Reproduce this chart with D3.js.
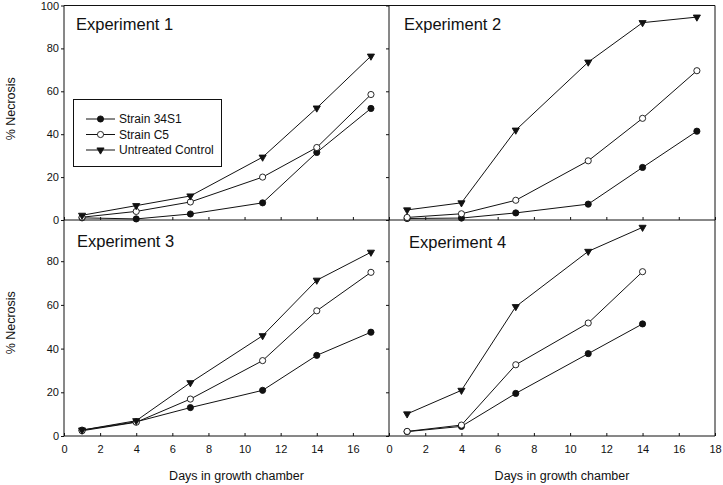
<!DOCTYPE html>
<html>
<head>
<meta charset="utf-8">
<script src="https://cdn.jsdelivr.net/npm/d3@7"></script>
<style>
  html, body { margin: 0; padding: 0; background: #fff; }
  svg { display: block; font-family: "Liberation Sans", Arial, sans-serif; }
</style>
</head>
<body>
<svg id="chart" width="723" height="485"></svg>
<script>
// ---------- data ----------
const experiments = ["Experiment 1", "Experiment 2", "Experiment 3", "Experiment 4"];
const seriesNames = ["Strain 34S1", "Strain C5", "Untreated Control"];
const days = [1, 4, 7, 11, 14, 17];
const days4 = [1, 4, 7, 11, 14];

const exp1_34S1 = [1.0, 0.5, 2.8, 8.0, 31.5, 52.0];
const exp1_C5 = [1.3, 4.0, 8.4, 20.0, 33.8, 58.5];
const exp1_Control = [2.2, 6.7, 11.2, 29.3, 52.2, 76.4];

const exp2_34S1 = [0.7, 0.9, 3.3, 7.4, 24.5, 41.4];
const exp2_C5 = [1.2, 2.9, 9.2, 27.6, 47.4, 69.6];
const exp2_Control = [4.7, 8.0, 41.9, 73.6, 92.0, 94.6];

const exp3_34S1 = [2.7, 6.5, 13.0, 20.9, 36.9, 47.5];
const exp3_C5 = [2.4, 6.3, 16.9, 34.5, 57.3, 74.9];
const exp3_Control = [2.7, 7.0, 24.4, 45.9, 71.3, 84.1];

const exp4_34S1 = [2.0, 4.4, 19.5, 37.7, 51.3];
const exp4_C5 = [2.1, 5.0, 32.6, 51.7, 75.2];
const exp4_Control = [10.1, 20.9, 59.2, 84.5, 95.5];

const xTicksLeft = [0, 2, 4, 6, 8, 10, 12, 14, 16];
const xTicksRight = [0, 2, 4, 6, 8, 10, 12, 14, 16, 18];
const yTicksTop = [0, 20, 40, 60, 80, 100];
const yTicksBottom = [0, 20, 40, 60, 80];

const xLabel = "Days in growth chamber";
const yLabel = "% Necrosis";

// ---------- layout ----------
const svg = d3.select("#chart");
const ink = "#111";

const xLeft = d3.scaleLinear().domain([0, 18]).range([64, 389]);
const xRight = d3.scaleLinear().domain([0, 18]).range([389, 715]);
const yTop = d3.scaleLinear().domain([0, 100]).range([220, 5.5]);
const yBot = d3.scaleLinear().domain([0, 100]).range([436, 217.5]);

const panels = [
  { name: experiments[0], x: xLeft, y: yTop, days: days, data: [exp1_34S1, exp1_C5, exp1_Control], left: true, bottom: false, title: [76, 30] },
  { name: experiments[1], x: xRight, y: yTop, days: days, data: [exp2_34S1, exp2_C5, exp2_Control], left: false, bottom: false, title: [404, 30] },
  { name: experiments[2], x: xLeft, y: yBot, days: days, data: [exp3_34S1, exp3_C5, exp3_Control], left: true, bottom: true, title: [77, 247] },
  { name: experiments[3], x: xRight, y: yBot, days: days4, data: [exp4_34S1, exp4_C5, exp4_Control], left: false, bottom: true, title: [409, 248] }
];

// frame lines
const fx0 = xLeft(0), fxm = xLeft(18), fx1 = xRight(18);
const fy0 = yTop(100), fym = yTop(0), fy1 = yBot(0);
const frame = svg.append("g").attr("stroke", ink).attr("stroke-width", 1).attr("fill", "none");
[[fx0, fy0, fx1, fy0], [fx0, fym, fx1, fym], [fx0, fy1, fx1, fy1],
 [fx0, fy0, fx0, fy1], [fxm, fy0, fxm, fy1], [fx1, fy0, fx1, fy1]].forEach(l => {
  frame.append("line").attr("x1", l[0]).attr("y1", l[1]).attr("x2", l[2]).attr("y2", l[3]);
});

function styleAxis(g) {
  g.select(".domain").remove();
  g.selectAll("line").attr("stroke", ink);
  g.selectAll("text").attr("fill", ink).style("font-size", "11px")
    .style("font-family", "'Liberation Sans', Arial, sans-serif");
}

const markerTypes = [
  { sym: d3.symbolCircle, size: 30, fill: ink, rot: 0 },
  { sym: d3.symbolCircle, size: 30, fill: "#fff", rot: 0 },
  { sym: d3.symbolTriangle, size: 22, fill: ink, rot: 180 }
];

panels.forEach(p => {
  const g = svg.append("g");
  // y axis ticks
  const yAxis = d3.axisLeft(p.y)
    .tickValues(p.bottom ? yTicksBottom : yTicksTop)
    .tickSize(3).tickPadding(2);
  if (!p.left) yAxis.tickFormat("");
  g.append("g").attr("transform", `translate(${p.x(0)},0)`).call(yAxis).call(styleAxis);

  // x ticks (inward)
  const y0 = p.y(0);
  g.append("g").attr("transform", `translate(0,${y0})`)
    .call(d3.axisTop(p.x).tickValues(xTicksRight).tickSize(3).tickFormat(""))
    .call(styleAxis);

  if (p.bottom) {
    g.append("g").attr("transform", `translate(0,${y0})`)
      .call(d3.axisBottom(p.x).tickValues(p.left ? xTicksLeft : xTicksRight).tickSize(0).tickPadding(9))
      .call(styleAxis);
    const [r0, r1] = p.x.range();
    g.append("text").attr("x", (r0 + r1) / 2 + 10).attr("y", 480)
      .attr("text-anchor", "middle").attr("fill", ink).style("font-size", "12.5px")
      .text(xLabel);
  }
  if (p.left) {
    const [b, t] = p.y.range();
    g.append("text")
      .attr("transform", `translate(15,${(b + t) / 2 - 4}) rotate(-90)`)
      .attr("text-anchor", "middle").attr("fill", ink).style("font-size", "12.5px")
      .text(yLabel);
  }

  // title
  g.append("text").attr("x", p.title[0]).attr("y", p.title[1])
    .attr("fill", ink).style("font-size", "16.5px").text(p.name);

  // series
  const line = d3.line().x((d, i) => p.x(p.days[i])).y(d => p.y(d));
  p.data.forEach((vals, si) => {
    g.append("path").datum(vals).attr("d", line)
      .attr("fill", "none").attr("stroke", ink).attr("stroke-width", 1);
  });
  p.data.forEach((vals, si) => {
    const m = markerTypes[si];
    g.selectAll(null).data(vals).enter().append("path")
      .attr("d", d3.symbol().type(m.sym).size(m.size))
      .attr("transform", (d, i) => `translate(${p.x(p.days[i])},${p.y(d)}) rotate(${m.rot})`)
      .attr("fill", m.fill).attr("stroke", ink).attr("stroke-width", 0.9);
  });
});

// legend
const lg = svg.append("g");
lg.append("rect").attr("x", 73.5).attr("y", 99.5).attr("width", 148).attr("height", 67)
  .attr("fill", "#fff").attr("stroke", ink).attr("stroke-width", 1);
const legendY = d3.scalePoint().domain(seriesNames).range([119, 150]);
seriesNames.forEach((name, si) => {
  const yy = legendY(name);
  const m = markerTypes[si];
  lg.append("line").attr("x1", 86).attr("x2", 115).attr("y1", yy).attr("y2", yy)
    .attr("stroke", ink).attr("stroke-width", 1);
  lg.append("path").attr("d", d3.symbol().type(m.sym).size(m.size))
    .attr("transform", `translate(100.5,${yy}) rotate(${m.rot})`)
    .attr("fill", m.fill).attr("stroke", ink).attr("stroke-width", 0.9);
  lg.append("text").attr("x", 119).attr("y", yy).attr("dy", "0.35em")
    .attr("fill", ink).style("font-size", "12px").text(name);
});
</script>
</body>
</html>
